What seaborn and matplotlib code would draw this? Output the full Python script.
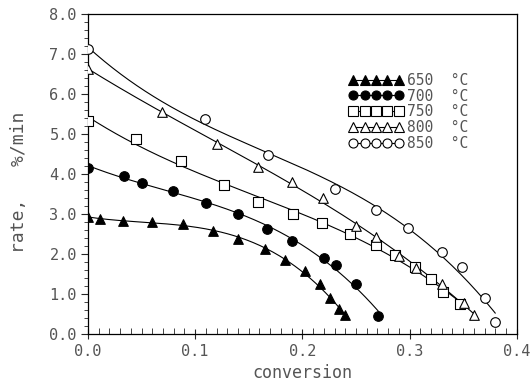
import numpy as np
import pandas as pd
import matplotlib
matplotlib.use("Agg")
import matplotlib.pyplot as plt
from matplotlib.lines import Line2D
from matplotlib.ticker import MultipleLocator, FormatStrFormatter
import seaborn as sns

# ---- data ----
temps = ["650", "700", "750", "800", "850"]

x650 = [0.000, 0.011, 0.033, 0.060, 0.089, 0.117, 0.140, 0.165, 0.184, 0.202, 0.216, 0.226, 0.234, 0.240]
y650 = [2.93, 2.87, 2.83, 2.81, 2.74, 2.58, 2.37, 2.13, 1.85, 1.58, 1.25, 0.89, 0.62, 0.47]

x700 = [0.000, 0.034, 0.050, 0.079, 0.110, 0.140, 0.167, 0.190, 0.220, 0.231, 0.250, 0.271]
y700 = [4.16, 3.96, 3.78, 3.58, 3.28, 3.00, 2.62, 2.33, 1.89, 1.72, 1.25, 0.45]

x750 = [0.000, 0.045, 0.087, 0.127, 0.159, 0.191, 0.218, 0.244, 0.269, 0.286, 0.305, 0.320, 0.331, 0.347]
y750 = [5.33, 4.88, 4.32, 3.72, 3.29, 3.00, 2.78, 2.50, 2.22, 1.97, 1.67, 1.37, 1.04, 0.75]

x800 = [0.000, 0.069, 0.120, 0.159, 0.190, 0.219, 0.250, 0.269, 0.290, 0.306, 0.330, 0.351, 0.360]
y800 = [6.64, 5.56, 4.75, 4.18, 3.81, 3.39, 2.71, 2.43, 1.95, 1.64, 1.25, 0.77, 0.47]

x850 = [0.000, 0.109, 0.168, 0.230, 0.269, 0.299, 0.330, 0.349, 0.370, 0.380]
y850 = [7.14, 5.39, 4.48, 3.62, 3.10, 2.66, 2.06, 1.67, 0.89, 0.29]

xs = [x650, x700, x750, x800, x850]
ys = [y650, y700, y750, y800, y850]
markers = ["^", "o", "s", "^", "o"]
filled = [True, True, False, False, False]

x_ticks = [0.0, 0.1, 0.2, 0.3, 0.4]
y_ticks = [0.0, 1.0, 2.0, 3.0, 4.0, 5.0, 6.0, 7.0, 8.0]

# ---- plotting ----
sns.set_style("ticks")
plt.rcParams["font.family"] = ["DejaVu Sans Mono", "DejaVu Sans"]
txt = "#555555"

fig = plt.figure(figsize=(5.30, 3.83), dpi=100)
ax = fig.add_axes([0.166, 0.128, 0.809, 0.835])

handles = []
for t, x, y, m, f in zip(temps, xs, ys, markers, filled):
    x = np.asarray(x)
    y = np.asarray(y)
    coef = np.polyfit(x, y, 3)
    xf = np.linspace(0, x.max(), 200)
    fit = pd.DataFrame({"x": xf, "y": np.polyval(coef, xf)})
    sns.lineplot(data=fit, x="x", y="y", ax=ax, color="black", lw=0.8,
                 legend=False, zorder=2)
    pts = pd.DataFrame({"x": x, "y": y})
    sns.scatterplot(data=pts, x="x", y="y", ax=ax, marker=m, s=48,
                    facecolor="black" if f else "white", edgecolor="black",
                    linewidth=0.8, legend=False, zorder=3)
    handles.append(Line2D([0], [0], color="black", lw=0.8, marker=m,
                          markersize=6.5, markerfacecolor="black" if f else "white",
                          markeredgecolor="black", markeredgewidth=0.8,
                          label=f"{t}  \u00b0C"))

ax.set_xlim(0, 0.4)
ax.set_ylim(0, 8.0)
ax.set_xticks(x_ticks)
ax.set_yticks(y_ticks)
ax.xaxis.set_major_formatter(FormatStrFormatter("%.1f"))
ax.yaxis.set_major_formatter(FormatStrFormatter("%.1f"))
ax.xaxis.set_minor_locator(MultipleLocator(0.01))
ax.yaxis.set_minor_locator(MultipleLocator(0.2))
ax.tick_params(axis="x", which="major", direction="inout", length=7, width=0.8,
               labelsize=11, labelcolor=txt, pad=4)
ax.tick_params(axis="x", which="minor", direction="in", length=4, width=0.6)
ax.tick_params(axis="y", which="major", direction="out", length=5, width=0.8,
               labelsize=11, labelcolor=txt, pad=3)
ax.tick_params(axis="y", which="minor", direction="out", length=3, width=0.6)
for sp in ax.spines.values():
    sp.set_visible(True)
    sp.set_linewidth(0.9)
    sp.set_color("black")

ax.set_xlabel("conversion", fontsize=12, color=txt, labelpad=3)
ax.set_ylabel("rate,   %/min", fontsize=13, color=txt)
ax.yaxis.set_label_coords(-0.14, 0.475)

ax.legend(handles=handles, loc="upper left", bbox_to_anchor=(0.595, 0.835),
          frameon=False, numpoints=5, handlelength=3.7, handletextpad=0.25,
          labelspacing=0.05, fontsize=10.5, borderaxespad=0,
          labelcolor=txt)

fig.savefig("out.png", dpi=100)
